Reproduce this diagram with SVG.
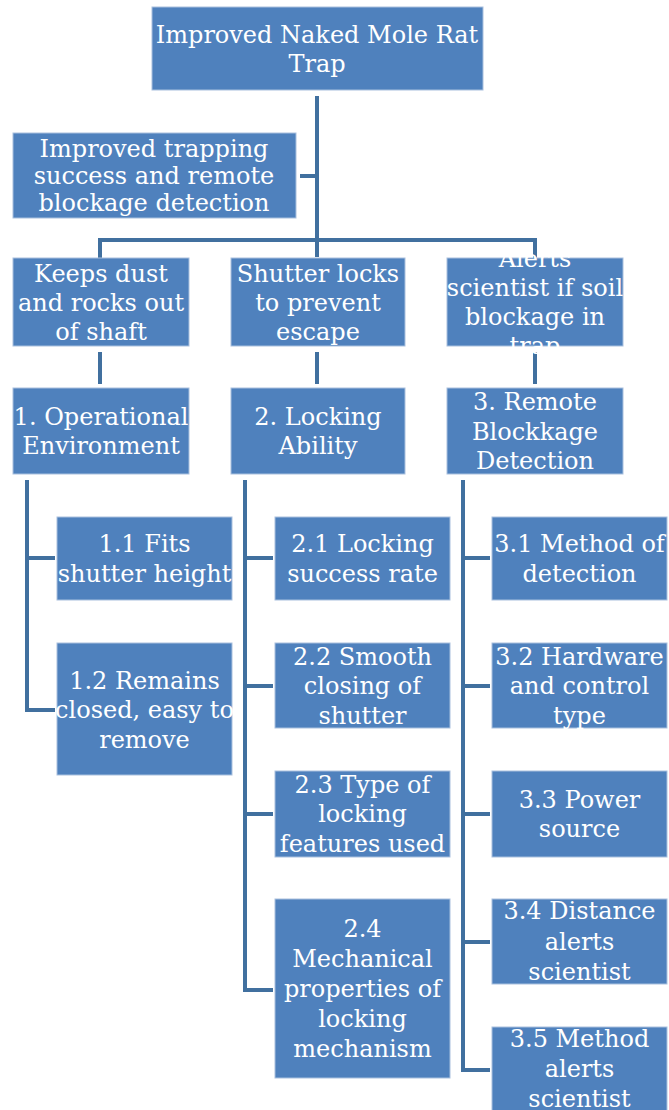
<svg xmlns="http://www.w3.org/2000/svg" width="669" height="1110" viewBox="0 0 669 1110">
<style>
.box{fill:#4f81bd;stroke:#a9c0de;stroke-width:1}
.t{font-family:"DejaVu Serif","Liberation Serif",serif;font-size:24px;fill:#ffffff;text-anchor:middle}
.c{fill:none;stroke:#41709f;stroke-width:4;stroke-linejoin:miter;stroke-linecap:butt}
</style>
<rect width="669" height="1110" fill="#ffffff"/>
<g id="connectors">
<path class="c" d="M317,96 V257"/>
<path class="c" d="M300,176 H317"/>
<path class="c" d="M100,258 V240 H535 V258"/>
<path class="c" d="M100,352 V384 M317,352 V384 M535,352 V384"/>
<path class="c" d="M27,480 V710 H55 M27,558 H55"/>
<path class="c" d="M245,480 V990 H273 M245,558 H273 M245,686 H273 M245,814 H273"/>
<path class="c" d="M463,480 V1070 H490 M463,558 H490 M463,686 H490 M463,814 H490 M463,942 H490"/>
</g>
<g id="root"><rect class="box" x="152" y="7" width="331" height="83"/><text class="t" x="317" y="43">Improved Naked Mole Rat</text><text class="t" x="317" y="72">Trap</text></g>
<g id="goal"><rect class="box" x="13" y="133" width="283" height="85"/><text class="t" x="154" y="157">Improved trapping</text><text class="t" x="154" y="184">success and remote</text><text class="t" x="154" y="211">blockage detection</text></g>
<g id="need1"><rect class="box" x="13" y="258" width="176" height="88"/><text class="t" x="101" y="282">Keeps dust</text><text class="t" x="101" y="311">and rocks out</text><text class="t" x="101" y="340">of shaft</text></g>
<g id="need2"><rect class="box" x="231" y="258" width="174" height="88"/><text class="t" x="318" y="282">Shutter locks</text><text class="t" x="318" y="311">to prevent</text><text class="t" x="318" y="340">escape</text></g>
<g id="need3"><rect class="box" x="447" y="258" width="176" height="88"/><text class="t" x="535" y="267">Alerts</text><text class="t" x="535" y="296">scientist if soil</text><text class="t" x="535" y="325">blockage in</text><text class="t" x="535" y="354">trap</text></g>
<g id="f1"><rect class="box" x="13" y="388" width="176" height="86"/><text class="t" x="101" y="425">1. Operational</text><text class="t" x="101" y="454">Environment</text></g>
<g id="f2"><rect class="box" x="231" y="388" width="174" height="86"/><text class="t" x="318" y="425">2. Locking</text><text class="t" x="318" y="454">Ability</text></g>
<g id="f3"><rect class="box" x="447" y="388" width="176" height="86"/><text class="t" x="535" y="410">3. Remote</text><text class="t" x="535" y="440">Blockkage</text><text class="t" x="535" y="469">Detection</text></g>
<g id="f1_1"><rect class="box" x="57" y="517" width="175" height="83"/><text class="t" x="144.5" y="552">1.1 Fits</text><text class="t" x="144.5" y="582">shutter height</text></g>
<g id="f1_2"><rect class="box" x="57" y="643" width="175" height="132"/><text class="t" x="144.5" y="689">1.2 Remains</text><text class="t" x="144.5" y="718">closed, easy to</text><text class="t" x="144.5" y="748">remove</text></g>
<g id="f2_1"><rect class="box" x="275" y="517" width="175" height="83"/><text class="t" x="362.5" y="552">2.1 Locking</text><text class="t" x="362.5" y="582">success rate</text></g>
<g id="f2_2"><rect class="box" x="275" y="643" width="175" height="85"/><text class="t" x="362.5" y="665">2.2 Smooth</text><text class="t" x="362.5" y="694">closing of</text><text class="t" x="362.5" y="724">shutter</text></g>
<g id="f2_3"><rect class="box" x="275" y="771" width="175" height="86"/><text class="t" x="362.5" y="793">2.3 Type of</text><text class="t" x="362.5" y="822">locking</text><text class="t" x="362.5" y="852">features used</text></g>
<g id="f2_4"><rect class="box" x="275" y="899" width="175" height="179"/><text class="t" x="362.5" y="937">2.4</text><text class="t" x="362.5" y="967">Mechanical</text><text class="t" x="362.5" y="997">properties of</text><text class="t" x="362.5" y="1027">locking</text><text class="t" x="362.5" y="1057">mechanism</text></g>
<g id="f3_1"><rect class="box" x="492" y="517" width="175" height="83"/><text class="t" x="579.5" y="552">3.1 Method of</text><text class="t" x="579.5" y="582">detection</text></g>
<g id="f3_2"><rect class="box" x="492" y="643" width="175" height="85"/><text class="t" x="579.5" y="665">3.2 Hardware</text><text class="t" x="579.5" y="694">and control</text><text class="t" x="579.5" y="724">type</text></g>
<g id="f3_3"><rect class="box" x="492" y="771" width="175" height="86"/><text class="t" x="579.5" y="808">3.3 Power</text><text class="t" x="579.5" y="837">source</text></g>
<g id="f3_4"><rect class="box" x="492" y="899" width="175" height="85"/><text class="t" x="579.5" y="919">3.4 Distance</text><text class="t" x="579.5" y="950">alerts</text><text class="t" x="579.5" y="980">scientist</text></g>
<g id="f3_5"><rect class="box" x="492" y="1027" width="175" height="86"/><text class="t" x="579.5" y="1047">3.5 Method</text><text class="t" x="579.5" y="1077">alerts</text><text class="t" x="579.5" y="1107">scientist</text></g>
</svg>
